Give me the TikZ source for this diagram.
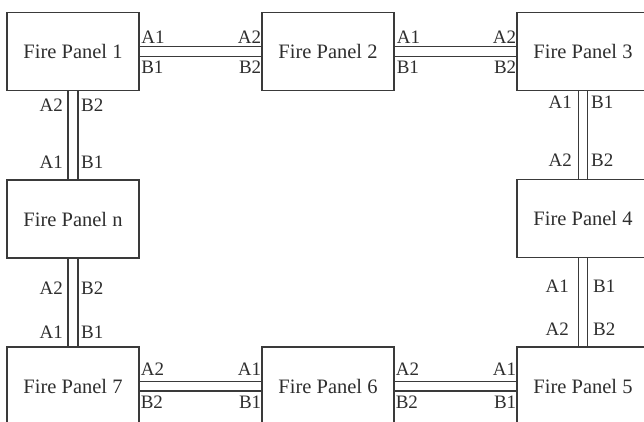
\documentclass[tikz,border=0pt]{standalone}
\usepackage{fontspec}
\setmainfont{Liberation Serif}
\definecolor{ink}{HTML}{3A3A3A}
\definecolor{txt}{HTML}{2E2E2E}
\begin{document}
\begin{tikzpicture}[x=1pt,y=-1pt,
  panel/.style={draw=ink, line width=1.2pt, minimum width=132pt, minimum height=78pt, inner sep=0pt, text=txt, font=\fontsize{20.5}{24}\selectfont},
  wire/.style={draw=ink, line width=1.2pt},
  lbl/.style={inner sep=0pt, text=txt, font=\fontsize{19}{22}\selectfont}]
\useasboundingbox (0,0) rectangle (644,421);
\clip (0,0) rectangle (644,421);
% panels
\node[panel] (p1) at (73,51.5) {Fire Panel 1};
\node[panel] (p2) at (328,51.5) {Fire Panel 2};
\node[panel] (p3) at (583,51.5) {Fire Panel 3};
\node[panel] (pn) at (73,219) {Fire Panel n};
\node[panel] (p4) at (583,218.5) {Fire Panel 4};
\node[panel] (p7) at (73,386) {Fire Panel 7};
\node[panel] (p6) at (328,386) {Fire Panel 6};
\node[panel] (p5) at (583,386) {Fire Panel 5};
% horizontal double wires
\foreach \a/\b in {p1/p2,p2/p3,p7/p6,p6/p5}{
  \draw[wire] ([yshift=4.7pt]\a.east) -- ([yshift=4.7pt]\b.west);
  \draw[wire] ([yshift=-5pt]\a.east) -- ([yshift=-5pt]\b.west);
}
% vertical double wires
\foreach \a/\b in {p1/pn,pn/p7}{
  \draw[wire] ([xshift=-5pt]\a.south) -- ([xshift=-5pt]\b.north);
  \draw[wire] ([xshift=5pt]\a.south) -- ([xshift=5pt]\b.north);
}
\foreach \a/\b in {p3/p4,p4/p5}{
  \draw[wire] ([xshift=-4.5pt]\a.south) -- ([xshift=-4.5pt]\b.north);
  \draw[wire] ([xshift=4.5pt]\a.south) -- ([xshift=4.5pt]\b.north);
}
% labels top row
\node[lbl, anchor=base west] (t1a) at ([xshift=1.5pt,yshift=8pt]p1.east) {A1};
\node[lbl, anchor=base west] (t1b) at ([xshift=1.5pt,yshift=-22pt]p1.east) {B1};
\node[lbl, anchor=base east] (t2a) at ([xshift=0pt,yshift=8pt]p2.west) {A2};
\node[lbl, anchor=base east] (t2b) at ([xshift=0pt,yshift=-22pt]p2.west) {B2};
\node[lbl, anchor=base west] (t3a) at ([xshift=2pt,yshift=8pt]p2.east) {A1};
\node[lbl, anchor=base west] (t3b) at ([xshift=2pt,yshift=-22pt]p2.east) {B1};
\node[lbl, anchor=base east] (t4a) at ([xshift=0pt,yshift=8pt]p3.west) {A2};
\node[lbl, anchor=base east] (t4b) at ([xshift=0pt,yshift=-22pt]p3.west) {B2};
% labels bottom row
\node[lbl, anchor=base west] (b1a) at ([xshift=1pt,yshift=11pt]p7.east) {A2};
\node[lbl, anchor=base west] (b1b) at ([xshift=1pt,yshift=-22pt]p7.east) {B2};
\node[lbl, anchor=base east] (b2a) at ([xshift=0pt,yshift=11pt]p6.west) {A1};
\node[lbl, anchor=base east] (b2b) at ([xshift=0pt,yshift=-22pt]p6.west) {B1};
\node[lbl, anchor=base west] (b3a) at ([xshift=1pt,yshift=11pt]p6.east) {A2};
\node[lbl, anchor=base west] (b3b) at ([xshift=1pt,yshift=-22pt]p6.east) {B2};
\node[lbl, anchor=base east] (b4a) at ([xshift=0pt,yshift=11pt]p5.west) {A1};
\node[lbl, anchor=base east] (b4b) at ([xshift=0pt,yshift=-22pt]p5.west) {B1};
% labels left column
\node[lbl, anchor=base east] (l1a) at ([xshift=-10pt,yshift=-20pt]p1.south) {A2};
\node[lbl, anchor=base west] (l1b) at ([xshift=8pt,yshift=-20pt]p1.south) {B2};
\node[lbl, anchor=base east] (l2a) at ([xshift=-10pt,yshift=11pt]pn.north) {A1};
\node[lbl, anchor=base west] (l2b) at ([xshift=8pt,yshift=11pt]pn.north) {B1};
\node[lbl, anchor=base east] (l3a) at ([xshift=-10pt,yshift=-36pt]pn.south) {A2};
\node[lbl, anchor=base west] (l3b) at ([xshift=8pt,yshift=-36pt]pn.south) {B2};
\node[lbl, anchor=base east] (l4a) at ([xshift=-10pt,yshift=8pt]p7.north) {A1};
\node[lbl, anchor=base west] (l4b) at ([xshift=8pt,yshift=8pt]p7.north) {B1};
% labels right column
\node[lbl, anchor=base east] (r1a) at ([xshift=-11pt,yshift=-17pt]p3.south) {A1};
\node[lbl, anchor=base west] (r1b) at ([xshift=8pt,yshift=-17pt]p3.south) {B1};
\node[lbl, anchor=base east] (r2a) at ([xshift=-11pt,yshift=12pt]p4.north) {A2};
\node[lbl, anchor=base west] (r2b) at ([xshift=8pt,yshift=12pt]p4.north) {B2};
\node[lbl, anchor=base east] (r3a) at ([xshift=-14pt,yshift=-34pt]p4.south) {A1};
\node[lbl, anchor=base west] (r3b) at ([xshift=10pt,yshift=-34pt]p4.south) {B1};
\node[lbl, anchor=base east] (r4a) at ([xshift=-14pt,yshift=11pt]p5.north) {A2};
\node[lbl, anchor=base west] (r4b) at ([xshift=10pt,yshift=11pt]p5.north) {B2};
\end{tikzpicture}
\end{document}
